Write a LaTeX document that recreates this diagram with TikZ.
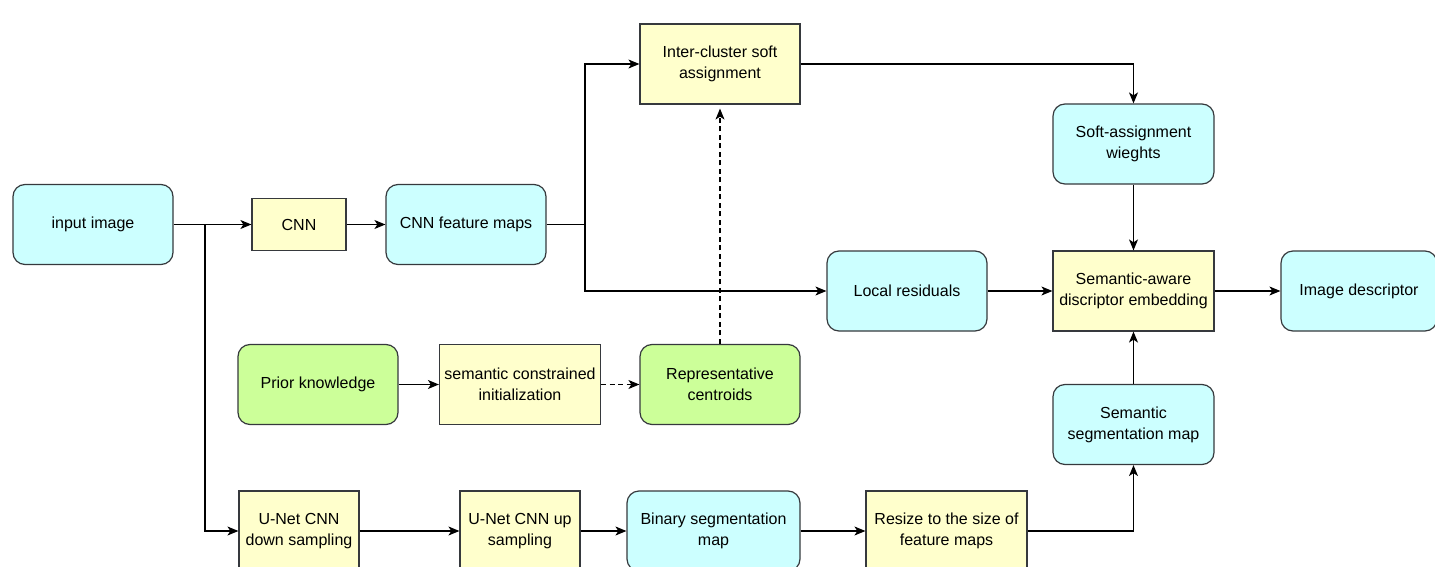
\documentclass[tikz,border=0pt]{standalone}
\usepackage{fontspec}
\setmainfont{Liberation Sans}
\usetikzlibrary{arrows.meta}
\definecolor{cyanf}{HTML}{CCFFFF}
\definecolor{yelf}{HTML}{FFFFCC}
\definecolor{grnf}{HTML}{CCFF99}
\definecolor{strk}{HTML}{36393D}
\begin{document}
\begin{tikzpicture}[x=1pt,y=-1pt,
  base/.style={draw=strk,line width=1.2pt,align=center,inner sep=0pt,
    font=\fontsize{16}{21}\selectfont,minimum height=80pt,minimum width=160pt},
  cbox/.style={base,fill=cyanf,rounded corners=12pt},
  gbox/.style={base,fill=grnf,rounded corners=12pt},
  ybox/.style={base,fill=yelf},
  arr/.style={draw=black,line width=1.1pt,-{Stealth[length=11pt,width=9pt,inset=3pt]}},
  ln/.style={draw=black,line width=1.1pt},
  dsh/.style={dash pattern=on 5pt off 3.5pt}]
\useasboundingbox (0,0) rectangle (1435,567);
\clip (0,0) rectangle (1435,567);
\fill[white] (0,0) rectangle (1435,567);

\node[cbox] (inp) at (93,224.5) {input image};
\node[ybox,minimum width=94pt,minimum height=52pt] (cnn) at (299,224.5) {CNN};
\node[cbox] (cfm) at (466,224.5) {CNN feature maps};
\node[ybox] (ica) at (720,64) {Inter-cluster soft\\assignment};
\node[cbox,minimum width=161pt] (saw) at (1133.5,144) {Soft-assignment\\wieghts};
\node[cbox] (lr) at (907,291) {Local residuals};
\node[ybox,minimum width=161pt] (sae) at (1133.5,291) {Semantic-aware\\discriptor embedding};
\node[cbox,minimum width=156pt] (ide) at (1359,291) {Image descriptor};
\node[gbox] (pk) at (318,384.5) {Prior knowledge};
\node[ybox,minimum width=161pt] (sci) at (520,384.5) {semantic constrained\\initialization};
\node[gbox] (rc) at (720,384.5) {Representative\\centroids};
\node[cbox,minimum width=161pt] (ssm) at (1133.5,424.5) {Semantic\\segmentation map};
\node[ybox,minimum width=120pt] (dn) at (299,531) {U-Net CNN\\down sampling};
\node[ybox,minimum width=120pt] (up) at (520,531) {U-Net CNN up\\sampling};
\node[cbox,minimum width=173pt] (bsm) at (713.5,531) {Binary segmentation\\map};
\node[ybox,minimum width=161pt] (rsz) at (946.5,531) {Resize to the size of\\feature maps};

\coordinate (b1) at (205,224.5);
\coordinate (b2) at (585,224.5);

\draw[arr] (inp.east) -- (cnn.west);
\draw[arr] (b1) |- (dn.west);
\draw[arr] (cnn.east) -- (cfm.west);
\draw[ln] (cfm.east) -- (b2);
\draw[arr] (b2) |- (ica.west);
\draw[arr] (b2) |- (lr.west);
\draw[arr] (ica.east) -| (saw.north);
\draw[arr] (saw.south) -- (sae.north);
\draw[arr] (lr.east) -- (sae.west);
\draw[arr] (sae.east) -- (ide.west);
\draw[arr] (ssm.north) -- (sae.south);
\draw[arr] (pk.east) -- (sci.west);
\draw[arr,dsh] (sci.east) -- (rc.west);
\draw[arr,dsh,shorten >=4pt] (rc.north) -- (ica.south);
\draw[arr] (dn.east) -- (up.west);
\draw[arr] (up.east) -- (bsm.west);
\draw[arr] (bsm.east) -- (rsz.west);
\draw[arr] (rsz.east) -| (ssm.south);
\end{tikzpicture}
\end{document}
